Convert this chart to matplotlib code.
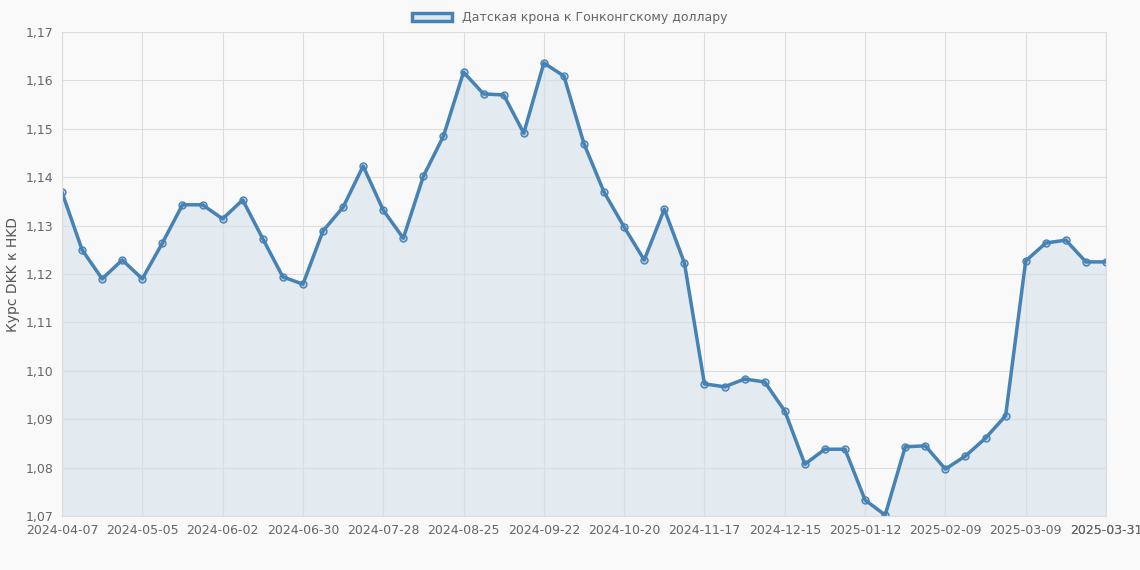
import matplotlib
matplotlib.use("Agg")
import matplotlib.pyplot as plt
import pandas as pd

dates = [d.strftime("%Y-%m-%d") for d in pd.date_range("2024-04-07", periods=53, freq="7D")]
dates[-1] = "2025-03-31"
values = [1.1369,1.1250,1.1190,1.1229,1.1190,1.1264,1.1343,1.1343,1.1314,1.1353,
          1.1273,1.1194,1.1179,1.1289,1.1338,1.1423,1.1332,1.1274,1.1402,1.1485,
          1.1617,1.1572,1.1570,1.1491,1.1636,1.1609,1.1469,1.1369,1.1297,1.1229,
          1.1334,1.1223,1.0973,1.0967,1.0983,1.0977,1.0917,1.0807,1.0838,1.0838,
          1.0733,1.0702,1.0843,1.0845,1.0797,1.0824,1.0861,1.0907,1.1227,1.1264,
          1.1270,1.1225,1.1225]
label = "Датская крона к Гонконгскому доллару"
color = "#4682b4"

fig = plt.figure(figsize=(11.4, 5.7), dpi=100, facecolor="#f9f9f9")
ax = fig.add_axes([62/1140, 1-516/570, (1106-62)/1140, (516-32)/570])
ax.set_facecolor("#f9f9f9")
x = list(range(len(values)))
ax.fill_between(x, values, 1.07, color=color, alpha=0.12, lw=0)
ax.plot(x, values, color=color, lw=2.5, marker="o", ms=5, mfc=(0.27,0.51,0.71,0.3), mec=color, mew=1, label=label)
ax.set_xlim(0, len(values)-1)
ax.set_ylim(1.07, 1.17)
ticks = list(range(0, len(values), 4)) + [len(values)-1]
ax.set_xticks(ticks)
ax.set_xticklabels([dates[i] for i in ticks])
yt = [1.07 + 0.01*i for i in range(11)]
ax.set_yticks(yt)
ax.set_yticklabels([f"{v:.2f}".replace(".", ",") for v in yt])
ax.grid(True, color="#dddddd", lw=0.8)
for s in ax.spines.values():
    s.set_color("#dddddd")
ax.tick_params(colors="#666666", labelsize=9, length=0, pad=6)
ax.set_ylabel("Курс DKK к HKD", color="#555555", fontsize=10)
from matplotlib.patches import Patch
fig.legend(handles=[Patch(facecolor=(0.27,0.51,0.71,0.15), edgecolor=color, lw=2.5)],
           labels=[label], loc="upper center", bbox_to_anchor=(0.5, 1.0), frameon=False,
           fontsize=9, labelcolor="#666666", handlelength=3.2)
fig.savefig("out.png", dpi=100, facecolor=fig.get_facecolor())
